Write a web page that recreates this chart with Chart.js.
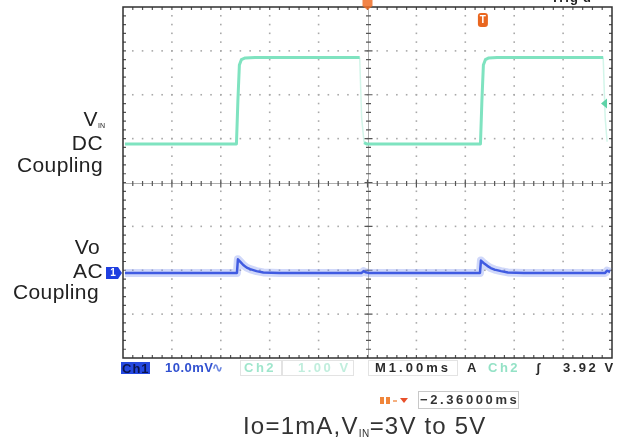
<!DOCTYPE html>
<html>
<head>
<meta charset="utf-8">
<script src="https://cdn.jsdelivr.net/npm/chart.js@4.4.1/dist/chart.umd.min.js"></script>
<style>
  body { margin: 0; background: #fff; width: 623px; height: 444px; overflow: hidden; position: relative; font-family: "Liberation Sans", Arial, sans-serif; }
  #scope { position: absolute; left: 0; top: 0; }
  .lbl { position: absolute; font-size: 21px; line-height: 21px; color: #222; white-space: nowrap; letter-spacing: 0.4px; }
  .lbl .sub { font-size: 7px; position: relative; top: 2px; letter-spacing: 0; }
  .st { position: absolute; top: 361px; font-size: 13px; line-height: 13px; font-weight: bold; white-space: nowrap; letter-spacing: 2.5px; }
  .box { position: absolute; border: 1px solid #e3e3e3; }
  #title { position: absolute; left: 243px; top: 414px; font-size: 24px; line-height: 24px; color: #333; letter-spacing: 1.2px; white-space: nowrap; }
  #title .sub { font-size: 10px; position: relative; top: 3px; letter-spacing: 0.5px; }
</style>
</head>
<body>
<canvas id="scope" width="623" height="444"></canvas>

<div class="st" style="left:551px; top:-9px; color:#222; letter-spacing:1px;">Trig'd</div>

<div class="lbl" style="top:108px; right:518px;">V<span class="sub">IN</span></div>
<div class="lbl" style="top:132px; right:520px;">DC</div>
<div class="lbl" style="top:154px; right:520px;">Coupling</div>
<div class="lbl" style="top:236px; right:523px;">Vo</div>
<div class="lbl" style="top:260px; right:520px;">AC</div>
<div class="lbl" style="top:281px; right:524px;">Coupling</div>

<div class="box" style="left:240px; top:360px; width:112px; height:14px;"></div>
<div class="box" style="left:281px; top:360px; width:0px; height:14px;"></div>
<div class="box" style="left:368px; top:360px; width:88px; height:14px;"></div>
<div class="st" style="left:121px; top:362px; width:29px; height:12px; background:#2448e0;"></div>
<div class="st" style="left:122px; top:362px; color:#0a1450; letter-spacing:1px;">Ch1</div>
<div class="st" style="left:165px; color:#3050d0; letter-spacing:0.5px;">10.0mV</div>
<div class="st" style="left:212px; color:#6b86e0; letter-spacing:0;">∿</div>
<div class="st" style="left:244px; color:#9fe6cc;">Ch2</div>
<div class="st" style="left:298px; color:#c0eedd;">1.00 V</div>
<div class="st" style="left:375px; color:#2a2a2a; letter-spacing:3px;">M1.00ms</div>
<div class="st" style="left:467px; color:#2a2a2a;">A</div>
<div class="st" style="left:488px; color:#94e2c6;">Ch2</div>
<div class="st" style="left:536px; color:#2a2a2a;">ʃ</div>
<div class="st" style="left:563px; color:#2a2a2a;">3.92 V</div>

<div style="position:absolute; left:380px; top:397px; width:4px; height:7px; background:#f0853a;"></div>
<div style="position:absolute; left:386px; top:397px; width:4px; height:7px; background:#f0853a;"></div>
<div style="position:absolute; left:393px; top:400px; width:4px; height:2px; background:#f5b080;"></div>
<div style="position:absolute; left:400px; top:398px; width:0; height:0; border-left:4px solid transparent; border-right:4px solid transparent; border-top:5px solid #e8502a;"></div>
<div class="box" style="left:418px; top:391px; width:99px; height:16px; border-color:#c8c8c8;"></div>
<div class="st" style="left:420px; top:393px; color:#333; letter-spacing:2.6px;">−2.36000ms</div>

<div id="title">Io=1mA,V<span class="sub">IN</span>=3V to 5V</div>

<script>
// scope settings
const divisionsX = [0, 1, 2, 3, 4, 5, 6, 7, 8, 9, 10];   // ms (1.00 ms/div)
const divisionsY = [-4, -3, -2, -1, 0, 1, 2, 3, 4];
const vinVoltsPerDiv = 1.0;
const vinOffsetDiv = -2.12;
const voMvPerDiv = 10.0;
const voOffsetDiv = -2.06;
const trigLevelV = 3.92;
const trigPosMs = -2.36;

// Ch2 : VIN, DC coupling (V)
const timeVin = [0.04, 2.32, 2.35, 2.38, 2.42, 2.50, 2.70, 4.84, 4.88, 4.93, 4.98,
                 7.31, 7.34, 7.37, 7.41, 7.48, 7.65, 9.82, 9.86, 9.90];
const vinVolts = [3.00, 3.00, 4.00, 4.80, 4.92, 4.96, 4.97, 4.97, 3.60, 3.03, 3.00,
                  3.00, 4.00, 4.80, 4.92, 4.96, 4.97, 4.97, 3.60, 3.05];

// Ch1 : Vo, AC coupling (mV)
const timeVo = [0.04, 2.33, 2.35, 2.41, 2.46, 2.53, 2.60, 2.73, 2.87, 3.20,
                4.88, 4.92, 4.96, 5.02,
                7.30, 7.32, 7.38, 7.45, 7.52, 7.60, 7.73, 7.87, 8.20,
                9.86, 9.90, 9.96];
const voMilliVolts = [0.0, 0.0, 3.1, 2.4, 1.8, 1.2, 0.85, 0.4, 0.1, 0.0,
                      0.0, 0.4, 0.15, 0.0,
                      0.0, 2.8, 2.2, 1.6, 1.1, 0.75, 0.4, 0.1, 0.0,
                      0.0, 0.5, 0.2];

const vinData = timeVin.map((t, i) => ({ x: t, y: vinVolts[i] / vinVoltsPerDiv + vinOffsetDiv }));
const voData = timeVo.map((t, i) => ({ x: t, y: voMilliVolts[i] / voMvPerDiv + voOffsetDiv }));

const graticule = {
  id: 'graticule',
  beforeDatasetsDraw(chart) {
    const { ctx, chartArea: a, scales: { x, y } } = chart;
    const xMin = divisionsX[0], xMax = divisionsX[divisionsX.length - 1];
    const yMin = divisionsY[0], yMax = divisionsY[divisionsY.length - 1];
    const xMid = (xMin + xMax) / 2, yMid = (yMin + yMax) / 2;
    ctx.save();
    // dotted division lines
    ctx.fillStyle = '#a9a9a9';
    divisionsX.slice(1, -1).forEach(d => {
      if (d === xMid) return;
      const px = x.getPixelForValue(d);
      for (let v = yMin + 0.2; v < yMax - 0.1; v += 0.2) {
        ctx.fillRect(px - 0.8, y.getPixelForValue(v) - 0.8, 1.6, 1.6);
      }
    });
    divisionsY.slice(1, -1).forEach(d => {
      if (d === yMid) return;
      const py = y.getPixelForValue(d);
      for (let v = xMin + 0.2; v < xMax - 0.1; v += 0.2) {
        ctx.fillRect(x.getPixelForValue(v) - 0.8, py - 0.8, 1.6, 1.6);
      }
    });
    // centre cross
    const cx = Math.round(x.getPixelForValue(xMid)) + 0.5;
    const cy = Math.round(y.getPixelForValue(yMid)) + 0.5;
    ctx.strokeStyle = 'rgba(110,110,110,0.55)';
    ctx.lineWidth = 1;
    ctx.beginPath();
    ctx.moveTo(cx, a.top); ctx.lineTo(cx, a.bottom);
    ctx.moveTo(a.left, cy); ctx.lineTo(a.right, cy);
    ctx.stroke();
    ctx.strokeStyle = '#555';
    ctx.lineWidth = 1.2;
    ctx.beginPath();
    let k = 0;
    for (let v = yMin + 0.2; v < yMax - 0.1; v += 0.2) {
      k++;
      const py = y.getPixelForValue(v);
      const len = k % 5 === 0 ? 4 : 2.5;
      ctx.moveTo(cx - len, py); ctx.lineTo(cx + len, py);
      ctx.moveTo(a.left, py); ctx.lineTo(a.left + 3, py);
      ctx.moveTo(a.right - 3, py); ctx.lineTo(a.right, py);
    }
    k = 0;
    for (let v = xMin + 0.2; v < xMax - 0.1; v += 0.2) {
      k++;
      const px = x.getPixelForValue(v);
      const len = k % 5 === 0 ? 4 : 2.5;
      ctx.moveTo(px, cy - len); ctx.lineTo(px, cy + len);
      ctx.moveTo(px, a.top); ctx.lineTo(px, a.top + 3);
      ctx.moveTo(px, a.bottom - 3); ctx.lineTo(px, a.bottom);
    }
    ctx.stroke();
    // frame
    ctx.strokeStyle = '#303030';
    ctx.lineWidth = 1.5;
    ctx.strokeRect(a.left, a.top, a.right - a.left, a.bottom - a.top);
    ctx.restore();
  }
};

const markers = {
  id: 'markers',
  afterDatasetsDraw(chart) {
    const { ctx, chartArea: a, scales: { x, y } } = chart;
    ctx.save();
    // Ch1 ground marker
    const gy = y.getPixelForValue(voOffsetDiv);
    ctx.fillStyle = '#1f3fe0';
    ctx.beginPath();
    ctx.moveTo(a.left - 17, gy - 6);
    ctx.lineTo(a.left - 5, gy - 6);
    ctx.lineTo(a.left - 1, gy);
    ctx.lineTo(a.left - 5, gy + 6);
    ctx.lineTo(a.left - 17, gy + 6);
    ctx.closePath();
    ctx.fill();
    ctx.fillStyle = '#fff';
    ctx.font = 'bold 10px "Liberation Sans", Arial';
    ctx.textAlign = 'center';
    ctx.textBaseline = 'middle';
    ctx.fillText('1', a.left - 10, gy + 0.5);
    // trigger level (Ch2)
    const ty = y.getPixelForValue(trigLevelV / vinVoltsPerDiv + vinOffsetDiv);
    ctx.fillStyle = '#5fd3a8';
    ctx.beginPath();
    ctx.moveTo(a.right - 11, ty);
    ctx.lineTo(a.right - 5, ty - 5);
    ctx.lineTo(a.right - 5, ty + 5);
    ctx.closePath();
    ctx.fill();
    // trigger position
    const tx = x.getPixelForValue((divisionsX[0] + divisionsX[divisionsX.length - 1]) / 2 - trigPosMs);
    ctx.fillStyle = '#e9661f';
    ctx.beginPath();
    ctx.roundRect(tx - 5, a.top + 6, 10, 14, 3);
    ctx.fill();
    ctx.fillStyle = '#fff';
    ctx.font = 'bold 10px "Liberation Sans", Arial';
    ctx.fillText('T', tx, a.top + 13.5);
    // horizontal position marker
    const hx = x.getPixelForValue((divisionsX[0] + divisionsX[divisionsX.length - 1]) / 2);
    ctx.fillStyle = 'rgba(240,110,40,0.85)';
    ctx.beginPath();
    ctx.moveTo(hx - 5, a.top - 7);
    ctx.lineTo(hx + 5, a.top - 7);
    ctx.lineTo(hx + 5, a.top - 1);
    ctx.lineTo(hx, a.top + 3);
    ctx.lineTo(hx - 5, a.top - 1);
    ctx.closePath();
    ctx.fill();
    ctx.restore();
  }
};

new Chart(document.getElementById('scope').getContext('2d'), {
  type: 'line',
  data: {
    datasets: [
      {
        label: 'VIN',
        data: vinData,
        borderColor: '#7fe3c0',
        borderWidth: 3,
        segment: {
          borderColor: c => (c.p0.parsed.y - c.p1.parsed.y > 0.5 ? 'rgba(127,227,192,0.35)' : undefined),
          borderWidth: c => (c.p0.parsed.y - c.p1.parsed.y > 0.5 ? 1.5 : undefined),
        },
      },
      {
        label: 'Vo noise',
        data: voData,
        borderColor: 'rgba(110,135,240,0.32)',
        borderWidth: 8,
      },
      {
        label: 'Vo',
        data: voData,
        borderColor: '#2c48da',
        borderWidth: 2.5,
      },
    ],
  },
  options: {
    responsive: false,
    animation: false,
    devicePixelRatio: 1,
    layout: { padding: { left: 123, right: 11, top: 7, bottom: 86 } },
    elements: { point: { radius: 0 }, line: { tension: 0, borderJoinStyle: 'round' } },
    plugins: { legend: { display: false }, tooltip: { enabled: false }, title: { display: false } },
    scales: {
      x: { type: 'linear', min: divisionsX[0], max: divisionsX[divisionsX.length - 1], display: false },
      y: { type: 'linear', min: divisionsY[0], max: divisionsY[divisionsY.length - 1], display: false },
    },
  },
  plugins: [graticule, markers],
});
</script>
</body>
</html>
